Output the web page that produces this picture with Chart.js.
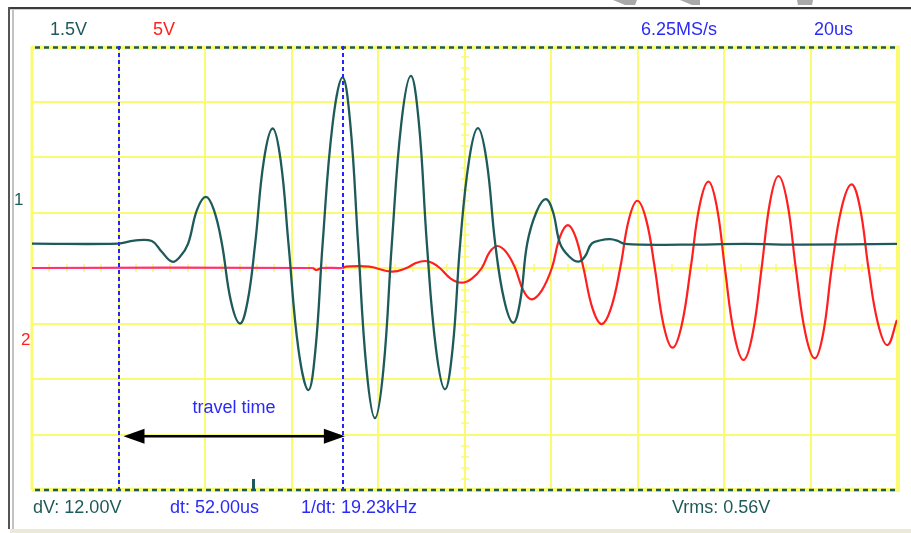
<!DOCTYPE html>
<html>
<head>
<meta charset="utf-8">
<title>Ultrasonic pulse – travel time</title>
<script src="https://cdn.jsdelivr.net/npm/chart.js@4/dist/chart.umd.min.js"></script>
<style>
  html, body { margin: 0; padding: 0; background: #ffffff; }
  #wrap { position: relative; width: 911px; height: 533px; overflow: hidden;
          font-family: "Liberation Sans", Arial, sans-serif; }
  #plot { position: absolute; left: 0; top: 0; width: 911px; height: 533px; }
  .lbl { position: absolute; font-size: 18px; line-height: 18px; white-space: nowrap; }
  .teal { color: #1e5a5a; }
  .blue { color: #2b2bf5; }
  .red  { color: #ff2020; }
  .edge { position: absolute; }
  .chip { position: absolute; top: 0; height: 5px; background: #a9a9a9; }
</style>
</head>
<body>
<div id="wrap">
  <!-- window frame -->
  <div class="edge" style="left:8px;top:7px;width:903px;height:2px;background:#3c3c3c"></div>
  <div class="edge" style="left:10px;top:9px;width:901px;height:1px;background:#cfcfcf"></div>
  <div class="edge" style="left:8px;top:7px;width:2px;height:522px;background:#555555"></div>
  <div class="edge" style="left:12px;top:10px;width:2px;height:519px;background:#c2c2c2"></div>
  <div class="edge" style="left:10px;top:529px;width:901px;height:4px;background:#ece9d8"></div>
  <div class="chip" style="left:613px;width:24px;clip-path:polygon(0 0,100% 0,92% 100%,50% 100%)"></div>
  <div class="chip" style="left:680px;width:20px;clip-path:polygon(0 0,100% 0,100% 100%,60% 100%)"></div>
  <div class="chip" style="left:797px;width:16px;clip-path:polygon(0 0,100% 0,94% 100%,6% 100%)"></div>

  <div id="plot"><canvas id="scope"></canvas></div>

  <!-- readouts -->
  <div class="lbl teal" style="left:50px;top:20px">1.5V</div>
  <div class="lbl red"  style="left:153px;top:20px">5V</div>
  <div class="lbl blue" style="left:641px;top:20px">6.25MS/s</div>
  <div class="lbl blue" style="left:814px;top:20px">20us</div>
  <div class="lbl teal" style="left:33px;top:498px">dV: 12.00V</div>
  <div class="lbl blue" style="left:170px;top:498px">dt: 52.00us</div>
  <div class="lbl blue" style="left:301px;top:498px">1/dt: 19.23kHz</div>
  <div class="lbl teal" style="left:672px;top:498px">Vrms: 0.56V</div>
  <div class="lbl teal" style="left:14px;top:191px;font-size:17px;line-height:17px">1</div>
  <div class="lbl red"  style="left:21px;top:331px;font-size:17px;line-height:17px">2</div>
  <div class="lbl blue" style="left:184px;top:398px;width:100px;text-align:center">travel time</div>
</div>

<script>
// ---- time base and channel settings ----
const TIME_PER_DIV = 20;        // us per division
const TIME_DIVS = 10;
const VERT_DIVS = 8;
const CH1_VOLTS_PER_DIV = 1.5;
const CH1_OFFSET_DIV = 0.44;    // channel 1 ground sits above the centre line
const CH2_VOLTS_PER_DIV = 5;

// cursor positions (us) and trigger position (us)
const cursorTimes = [20, 72];
const triggerTime = 51;
const ARROW_DIV = -3.03;        // height of the travel-time arrow, in divisions

// ---- channel 1: transmitted burst (time in us, volts) ----
const ch1Time  = [0, 19.9, 23.6, 27.7, 30.0, 32.4, 34.25, 36.1, 38.15, 40.2,
                  42.05, 43.9, 46.0, 48.1, 49.85, 51.6, 53.6, 55.65, 57.5, 59.3,
                  61.6, 63.9, 65.55, 67.2, 69.5, 71.8, 73.6, 75.4, 77.35, 79.3,
                  81.25, 83.2, 85.4, 87.6, 89.45, 91.3, 93.4, 95.5, 97.25, 99.0,
                  101.05, 103.1, 105.1, 107.1, 109.2, 111.3, 112.9, 114.5, 116.65, 118.8,
                  120.45, 122.1, 124.2, 126.3, 127.85, 129.4, 131.5, 133.6, 135.3, 137.1,
                  150, 165, 178, 200];
const ch1Volts = [0, 0, 0.08, 0.07, -0.22, -0.49, -0.35, 0, 0.91, 1.26,
                  0.91, 0, -1.56, -2.16, -1.56, 0, 2.24, 3.11, 2.24, 0,
                  -2.85, -3.96, -2.85, 0, 3.23, 4.49, 3.23, 0, -3.40, -4.72,
                  -3.40, 0, 3.26, 4.53, 3.26, 0, -2.84, -3.94, -2.84, 0,
                  2.25, 3.12, 2.25, 0, -1.54, -2.14, -1.54, 0, 0.86, 1.20,
                  0.86, 0, -0.35, -0.49, -0.35, 0, 0.09, 0.12, 0.08, -0.01,
                  -0.03, -0.01, -0.03, -0.01];

// ---- channel 2: received signal (time in us, volts) ----
const ch2Time  = [0, 64.8, 65.8, 67.0, 71.8, 72.6, 78.0, 83.2, 86.6, 88.75,
                  90.9, 92.6, 94.3, 96.8, 99.35, 101.7, 104.0, 105.8, 107.6, 109.65,
                  111.7, 113.6, 115.5, 117.85, 120.2, 122.05, 123.9, 125.7, 127.5, 129.6,
                  131.7, 133.85, 136.0, 138.0, 139.95, 142.0, 144.0, 146.05, 148.1, 150.2,
                  152.3, 154.35, 156.4, 158.3, 160.2, 162.35, 164.5, 166.6, 168.7, 170.65,
                  172.6, 174.6, 176.6, 178.8, 181.0, 182.95, 184.9, 187.2, 189.5, 191.45,
                  193.4, 195.6, 197.8, 200];
const ch2Volts = [0, 0, -0.18, 0, 0, 0.12, 0.12, -0.33, 0, 0.45,
                  0.63, 0.45, 0, -0.95, -1.32, -0.95, 0, 1.43, 1.98, 1.43,
                  0, -2.03, -2.82, -2.03, 0, 2.79, 3.87, 2.79, 0, -3.64,
                  -5.05, -3.64, 0, 4.36, 6.06, 4.36, 0, -5.17, -7.18, -5.17,
                  0, 5.60, 7.78, 5.60, 0, -5.97, -8.29, -5.97, 0, 5.97,
                  8.29, 5.97, 0, -5.86, -8.14, -5.86, 0, 5.43, 7.54, 5.43,
                  0, -5.00, -6.94, -4.68];

// ---- colours ----
const TEAL = '#1e5a5a';
const TRACE_RED = '#ff1f1f';
const IDLE_PINK = '#ff2f7a';
const GRID_YELLOW = '#fbfb72';
const CURSOR_BLUE = '#2424ff';

const toPoints = (ts, vs) => ts.map((t, i) => ({ x: t, y: vs[i] }));

function strokeLine(ctx, x0, y0, x1, y1) {
  ctx.beginPath();
  ctx.moveTo(x0, y0);
  ctx.lineTo(x1, y1);
  ctx.stroke();
}

// graticule, centre cross-hair ticks and frame
const scopeScreen = {
  id: 'scopeScreen',
  beforeDatasetsDraw(chart) {
    const { ctx, chartArea: a, scales } = chart;
    const xs = scales.x, ys = scales.y2;
    ctx.save();
    ctx.strokeStyle = GRID_YELLOW;
    ctx.lineWidth = 2;
    for (let i = 1; i < TIME_DIVS; i++) {
      const px = Math.round(xs.getPixelForValue(i * TIME_PER_DIV));
      strokeLine(ctx, px, a.top, px, a.bottom);
    }
    for (let j = 1; j < VERT_DIVS; j++) {
      const py = Math.round(ys.getPixelForValue(ys.min + j * CH2_VOLTS_PER_DIV));
      strokeLine(ctx, a.left, py, a.right, py);
    }
    // five minor ticks per division along the centre lines
    const cx = Math.round(xs.getPixelForValue(TIME_DIVS / 2 * TIME_PER_DIV));
    const cy = Math.round(ys.getPixelForValue(0));
    ctx.lineWidth = 1.5;
    for (let k = 1; k < TIME_DIVS * 5; k++) {
      if (k % 5 === 0) continue;
      const px = Math.round(xs.getPixelForValue(k * TIME_PER_DIV / 5));
      strokeLine(ctx, px, cy - 4, px, cy + 4);
    }
    for (let k = 1; k < VERT_DIVS * 5; k++) {
      if (k % 5 === 0) continue;
      const py = Math.round(ys.getPixelForValue(ys.min + k * CH2_VOLTS_PER_DIV / 5));
      strokeLine(ctx, cx - 4, py, cx + 4, py);
    }
    // frame
    ctx.lineWidth = 3;
    strokeLine(ctx, a.left, a.top, a.left, a.bottom);
    ctx.lineWidth = 4;
    strokeLine(ctx, a.right + 1, a.top, a.right + 1, a.bottom);
    strokeLine(ctx, a.left, a.top + 1.5, a.right + 3, a.top + 1.5);
    strokeLine(ctx, a.left, a.bottom, a.right + 3, a.bottom);
    ctx.strokeStyle = TEAL;
    ctx.lineWidth = 2.5;
    ctx.setLineDash([5, 4]);
    strokeLine(ctx, a.left + 3, a.top + 1.5, a.right, a.top + 1.5);
    strokeLine(ctx, a.left + 3, a.bottom, a.right, a.bottom);
    ctx.restore();
  },
  afterDatasetsDraw(chart) {
    const { ctx, chartArea: a, scales } = chart;
    const xs = scales.x, ys = scales.y2;
    ctx.save();
    // time cursors
    ctx.strokeStyle = CURSOR_BLUE;
    ctx.lineWidth = 2;
    ctx.setLineDash([4, 3]);
    cursorTimes.forEach(t => {
      const px = Math.round(xs.getPixelForValue(t));
      strokeLine(ctx, px, a.top, px, a.bottom);
    });
    ctx.setLineDash([]);
    // travel-time arrow between the cursors
    const xL = xs.getPixelForValue(cursorTimes[0]) + 5;
    const xR = xs.getPixelForValue(cursorTimes[1]) + 1.5;
    const yA = ys.getPixelForValue(ARROW_DIV * CH2_VOLTS_PER_DIV);
    const head = 21, half = 7.5;
    ctx.strokeStyle = '#000';
    ctx.fillStyle = '#000';
    ctx.lineWidth = 2.5;
    strokeLine(ctx, xL + 8, yA, xR - 8, yA);
    ctx.beginPath();
    ctx.moveTo(xL, yA); ctx.lineTo(xL + head, yA - half); ctx.lineTo(xL + head, yA + half);
    ctx.closePath(); ctx.fill();
    ctx.beginPath();
    ctx.moveTo(xR, yA); ctx.lineTo(xR - head, yA - half); ctx.lineTo(xR - head, yA + half);
    ctx.closePath(); ctx.fill();
    // trigger marker on the bottom edge
    ctx.fillStyle = TEAL;
    const tx = Math.round(xs.getPixelForValue(triggerTime));
    ctx.fillRect(tx - 1, a.bottom - 11, 3, 10);
    ctx.restore();
  }
};

const ch2Min = -VERT_DIVS / 2 * CH2_VOLTS_PER_DIV;
const ch2Max = VERT_DIVS / 2 * CH2_VOLTS_PER_DIV;
const ch1Min = (-VERT_DIVS / 2 - CH1_OFFSET_DIV) * CH1_VOLTS_PER_DIV;
const ch1Max = (VERT_DIVS / 2 - CH1_OFFSET_DIV) * CH1_VOLTS_PER_DIV;

new Chart(document.getElementById('scope'), {
  type: 'line',
  data: {
    datasets: [
      {
        label: 'CH1',
        data: toPoints(ch1Time, ch1Volts),
        yAxisID: 'y1',
        borderColor: TEAL,
        borderWidth: 2.3,
        tension: 0.4,
        pointRadius: 0,
        order: 0
      },
      {
        label: 'CH2',
        data: toPoints(ch2Time, ch2Volts),
        yAxisID: 'y2',
        borderColor: TRACE_RED,
        borderWidth: 2.2,
        tension: 0.4,
        pointRadius: 0,
        order: 1,
        segment: {
          borderColor: c => (c.p0.parsed.y === 0 && c.p1.parsed.y === 0) ? IDLE_PINK : undefined
        }
      }
    ]
  },
  options: {
    responsive: true,
    maintainAspectRatio: false,
    devicePixelRatio: 1,
    animation: false,
    events: [],
    layout: { padding: { left: 32, right: 14, top: 46, bottom: 43 } },
    plugins: { legend: { display: false }, tooltip: { enabled: false } },
    scales: {
      x: { type: 'linear', min: 0, max: TIME_DIVS * TIME_PER_DIV, display: false },
      y1: { type: 'linear', min: ch1Min, max: ch1Max, display: false },
      y2: { type: 'linear', min: ch2Min, max: ch2Max, display: false }
    }
  },
  plugins: [scopeScreen]
});
</script>
</body>
</html>
